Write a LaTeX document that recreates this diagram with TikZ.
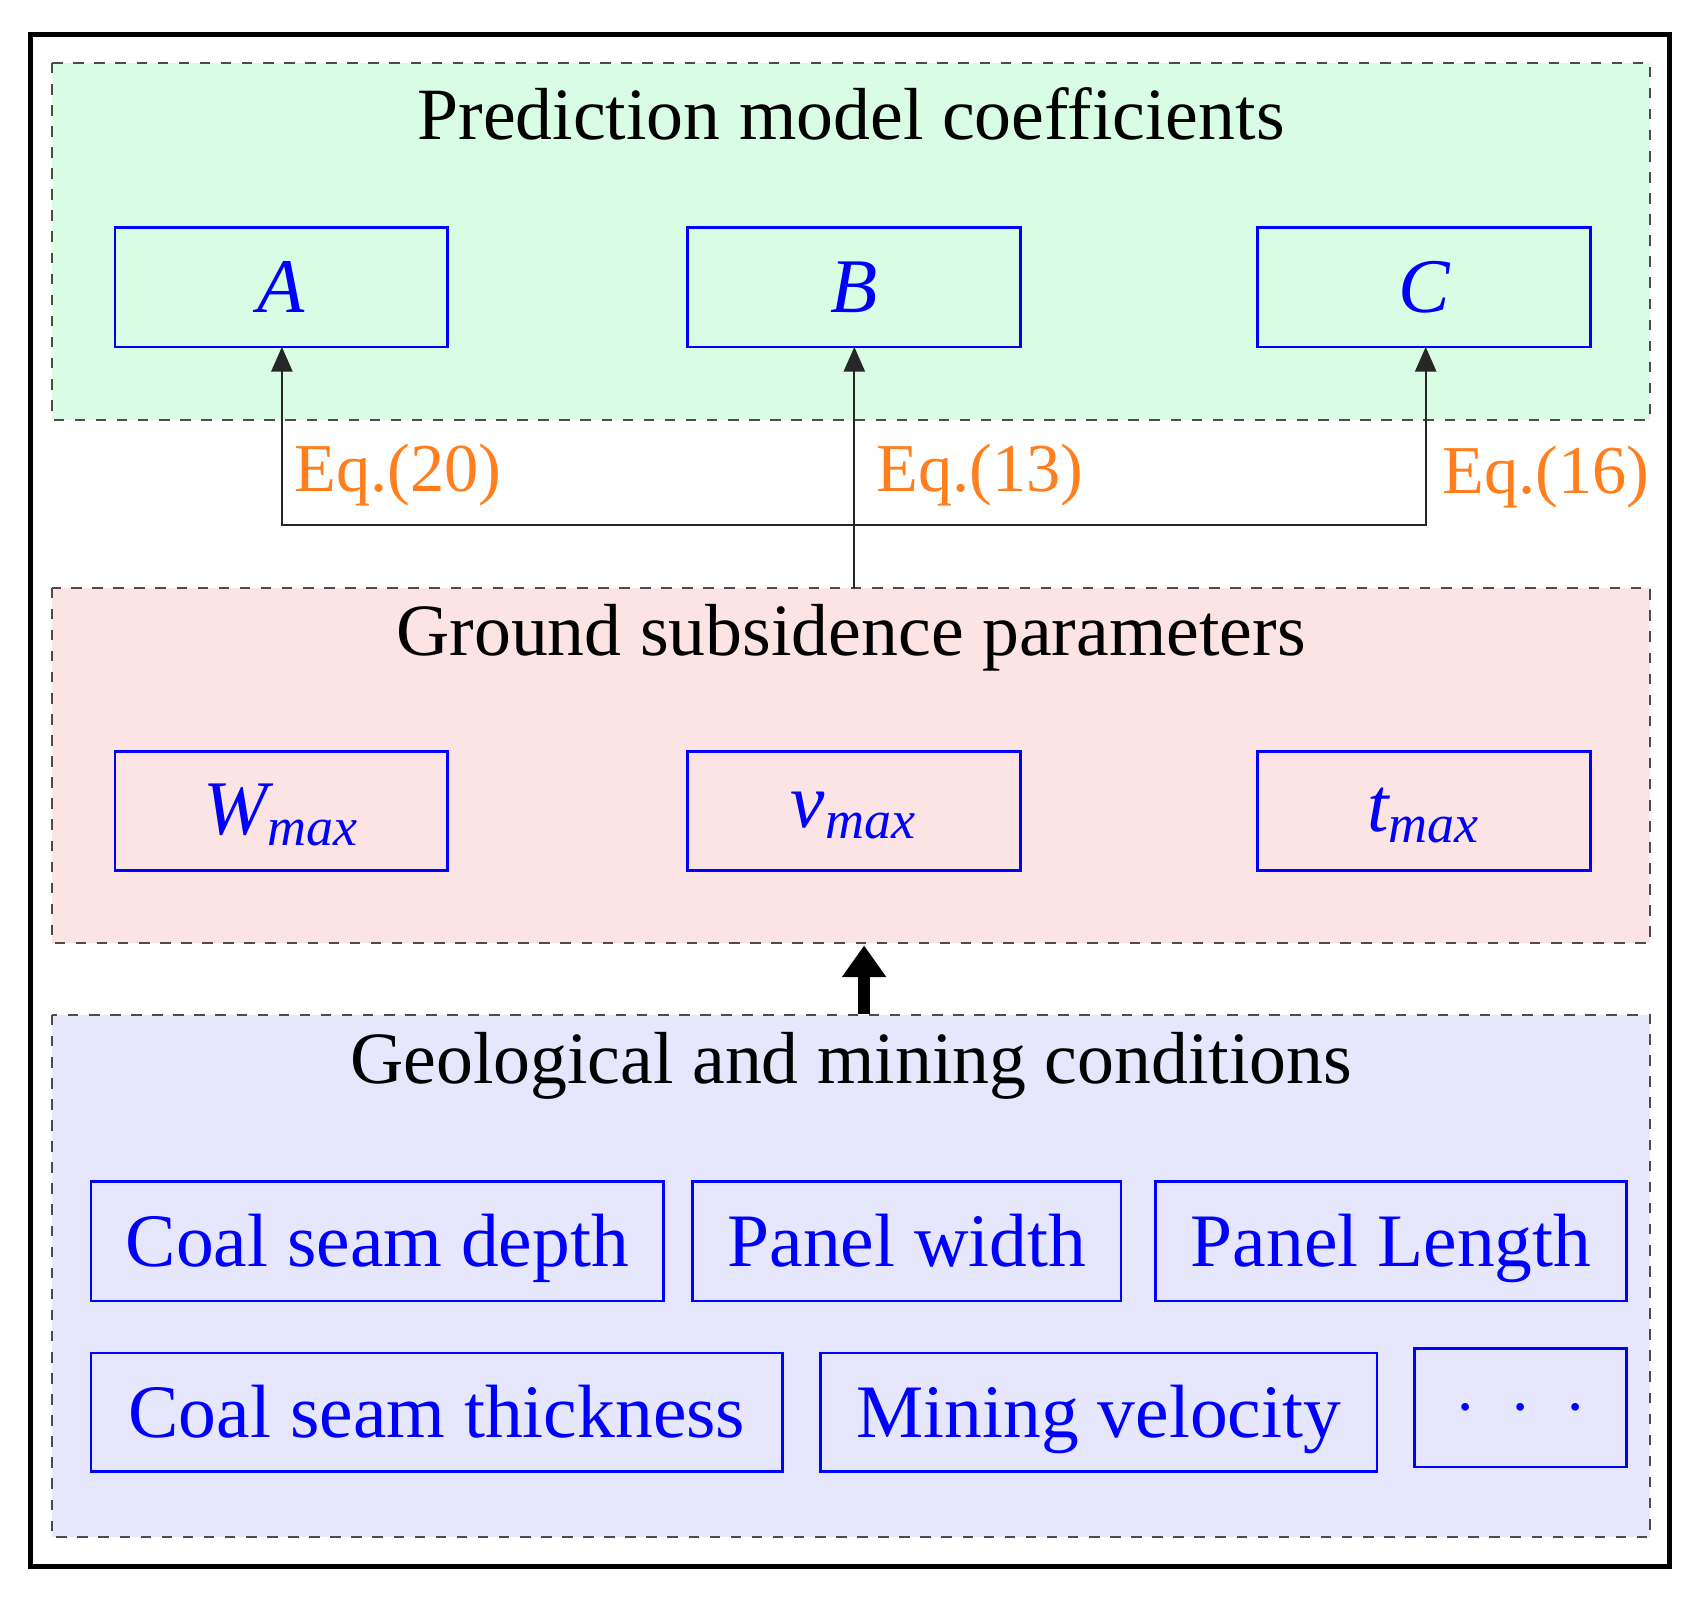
\documentclass[tikz,border=0pt]{standalone}
\usepackage{fontspec}
\setmainfont{Liberation Serif}
\usetikzlibrary{arrows.meta}
\definecolor{gfill}{HTML}{D8FCE4}
\definecolor{pfill}{HTML}{FDE4E4}
\definecolor{bfill}{HTML}{E6E6FC}
\definecolor{eqc}{HTML}{FF7F1E}
\tikzset{x=0.01085cm,y=-0.01085cm,
 panel/.style={draw=black!70,dashed,line width=0.6pt},
 bbox/.style={draw=blue,line width=0.8pt},
 btxt/.style={text=blue,font=\fontsize{22}{24}\selectfont\itshape},
 ctxt/.style={text=blue,anchor=base,font=\fontsize{21.5}{24}\selectfont},
 ttl/.style={font=\fontsize{21}{24}\selectfont},
 eq/.style={text=eqc,font=\fontsize{19.5}{22}\selectfont},
 conn/.style={draw=black!85,line width=0.6pt,-{Triangle[length=7pt,width=6pt]}}}
\begin{document}
\begin{tikzpicture}
\useasboundingbox (0,0) rectangle (1568,1484);
\draw[line width=1.5pt] (28,32) rectangle (1540,1445);
\filldraw[panel,fill=gfill] (48,58) rectangle (1522,387);
\filldraw[panel,fill=pfill] (48,542) rectangle (1522,870);
\filldraw[panel,fill=bfill] (48,936) rectangle (1522,1418);
\node[ttl] (t1) at (785,105) {Prediction model coefficients};
\node[ttl] (t2) at (785,588) {Ground subsidence parameters};
\node[ttl] (t3) at (785,983) {Geological and mining conditions};
% coefficient boxes
\draw[bbox] (106,210) rectangle (413,320); \node[btxt] (A) at (259.5,265) {A};
\draw[bbox] (634,210) rectangle (941,320); \node[btxt] (B) at (787.5,265) {B};
\draw[bbox] (1160,210) rectangle (1467,320); \node[btxt] (C) at (1313.5,265) {C};
\coordinate (Ab) at (260,320); \coordinate (Bb) at (788,320); \coordinate (Cb) at (1315,320);
\coordinate (J) at (788,484); \coordinate (S) at (788,542);
\draw[draw=black!85,line width=0.6pt] (S) -- (J);
\draw[conn] (J) -| (Ab);
\draw[conn] (J) -- (Bb);
\draw[conn] (J) -| (Cb);
\node[eq] (e1) at (367,438) {Eq.(20)};
\node[eq] (e2) at (904,438) {Eq.(13)};
\node[eq] (e3) at (1426,440) {Eq.(16)};
% parameter boxes
\draw[bbox] (106,693) rectangle (413,803); \node[btxt] (W) at (259.5,752) {W\textsubscript{max}};
\draw[bbox] (634,693) rectangle (941,803); \node[btxt] (V) at (787.5,752) {v\textsubscript{max}};
\draw[bbox] (1160,693) rectangle (1467,803); \node[btxt] (T) at (1313.5,752) {t\textsubscript{max}};
% thick arrow
\coordinate (ua) at (797,935); \coordinate (ub) at (797,872);
\draw[line width=3.5pt,-{Triangle[length=9pt,width=12pt]}] (ua) -- (ub);
% conditions
\draw[bbox] (84,1090) rectangle (612,1200); \node[ctxt] (c1) at (348,1168) {Coal seam depth};
\draw[bbox] (639,1090) rectangle (1034,1200); \node[ctxt] (c2) at (836.5,1168) {Panel width};
\draw[bbox] (1066,1090) rectangle (1500,1200); \node[ctxt] (c3) at (1283,1168) {Panel Length};
\draw[bbox] (84,1248) rectangle (722,1357); \node[ctxt] (c4) at (403,1326) {Coal seam thickness};
\draw[bbox] (757,1248) rectangle (1270,1357); \node[ctxt] (c5) at (1013.5,1326) {Mining velocity};
\draw[bbox] (1305,1244) rectangle (1500,1353); \node[ctxt,anchor=center] (c6) at (1402.5,1300) {$\cdot\ \cdot\ \cdot$};
\end{tikzpicture}
\end{document}
